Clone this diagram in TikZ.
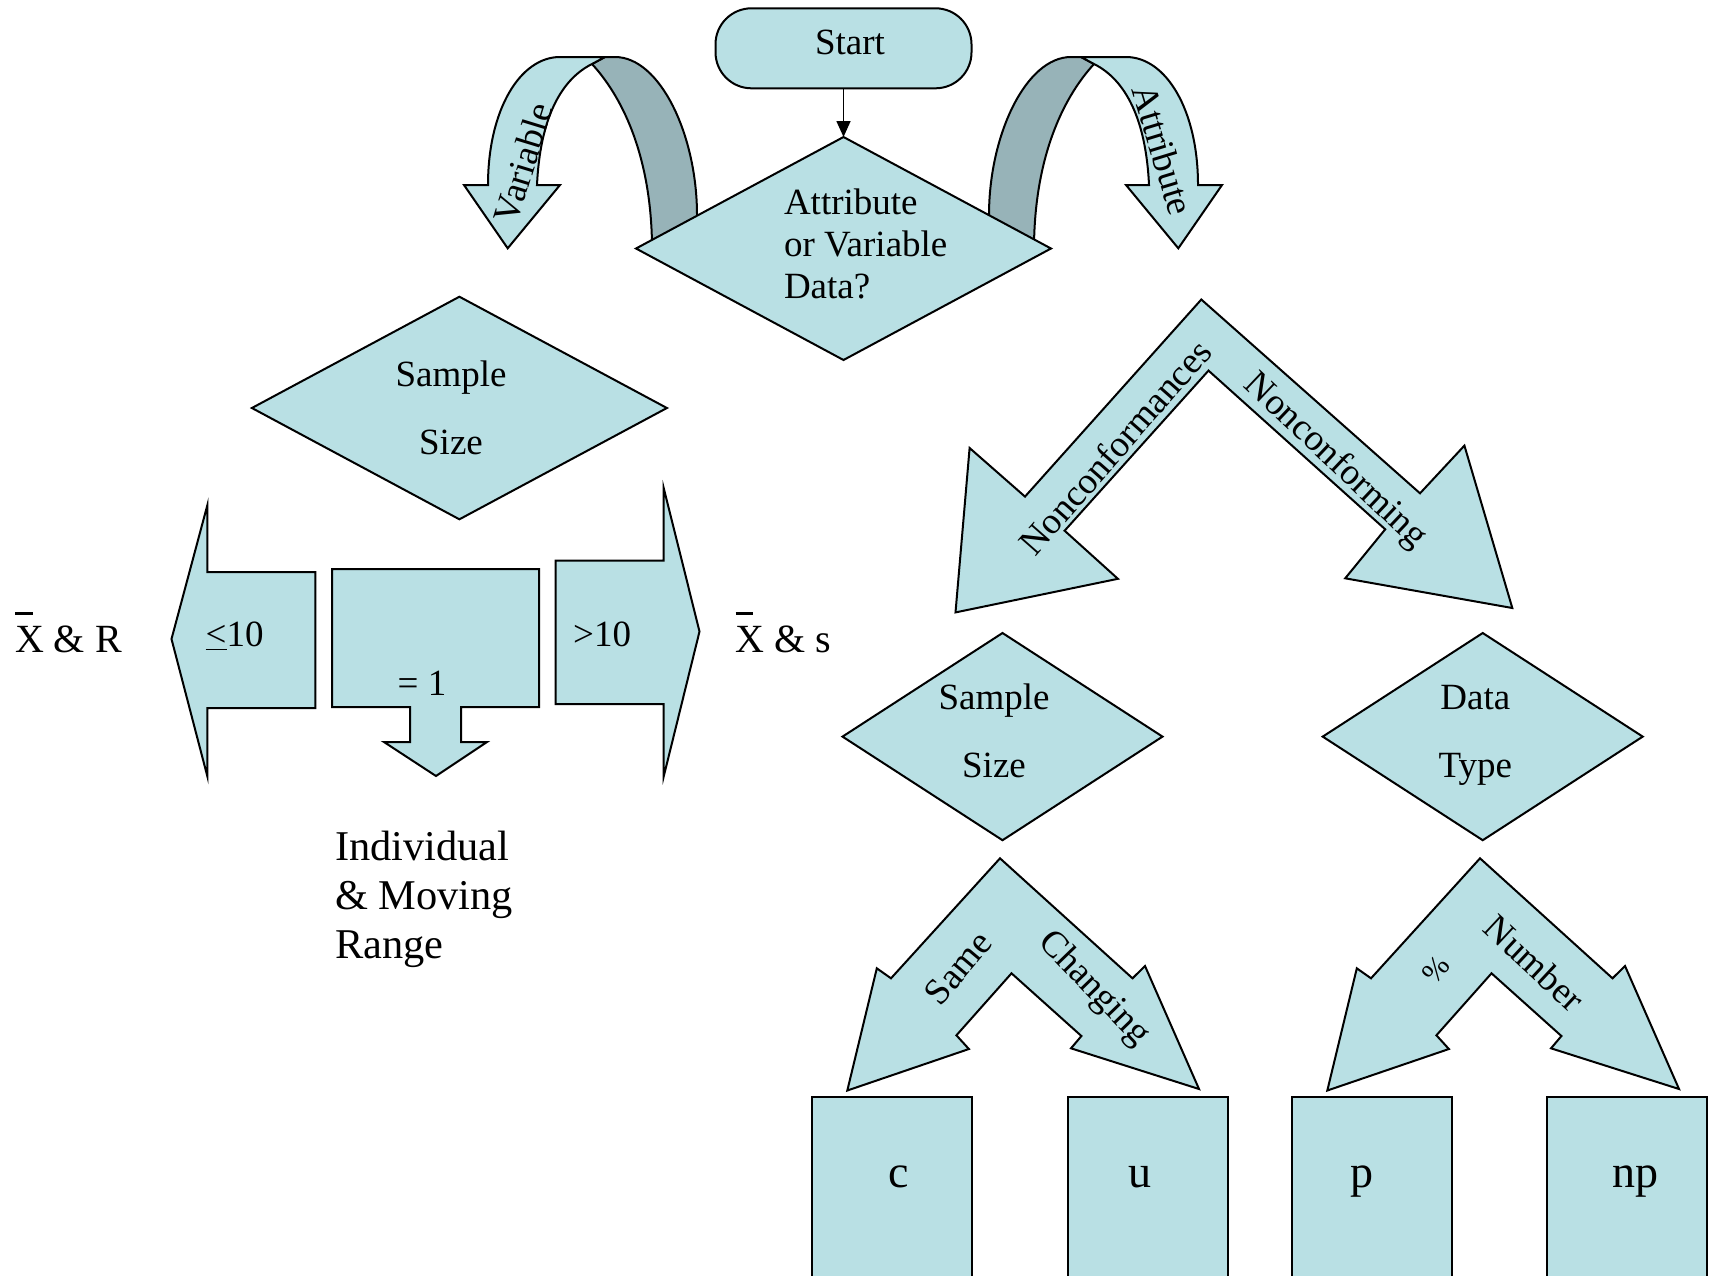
\documentclass[tikz,border=0pt]{standalone}
\usepackage{fontspec}
\setmainfont{Liberation Serif}
\usetikzlibrary{arrows.meta,shapes.geometric}
\definecolor{panel}{RGB}{185,224,228}
\definecolor{panelback}{RGB}{151,179,184}
\tikzset{
  shaped/.style={draw=black, line width=1pt, fill=panel, line join=miter},
  backface/.style={draw=black, line width=1pt, fill=panelback},
  decision/.style={shape=diamond, draw=black, line width=1pt, fill=panel,
    inner sep=0pt, outer sep=0pt},
  chartbox/.style={shape=rectangle, draw=black, line width=1pt, fill=panel,
    inner sep=0pt, outer sep=0pt, minimum width=80pt, minimum height=101.6pt},
  txt/.style={inner sep=0pt, outer sep=0pt, font=\fontsize{18.5}{21}\selectfont},
  bigtxt/.style={inner sep=0pt, outer sep=0pt, font=\fontsize{21.2}{24.5}\selectfont},
  lettertxt/.style={inner sep=0pt, outer sep=0pt, font=\fontsize{23}{27}\selectfont},
}
% curled ribbon arrow: back face rising from the decision, front face with head
\newcommand\curlribbon{%
  \path[backface] (592,64) -- (605,57) -- (615,57)
    .. controls (660,57) and (697,135) .. (697,215) -- (697,250) -- (652,250)
    -- (652,245) .. controls (651,160) and (625,100) .. (592,64) -- cycle;
  \path[shaped] (592,64) -- (605,57) -- (560,57)
    .. controls (520,57) and (488,110) .. (488,185) -- (464,185) -- (507.7,248.3)
    -- (560,185) -- (537,185) .. controls (540,120) and (560,80) .. (592,64) -- cycle;
}
% double-headed chevron below the small decisions
\newcommand\smallchevron{%
  \path[shaped] (1000,858.3) -- (1132.5,978.3) -- (1145,966) -- (1199,1089)
    -- (1071,1048.3) -- (1081.4,1036) -- (1011.5,973.3) -- (956.4,1035.3)
    -- (968.9,1049) -- (847.3,1090.5) -- (876.8,968.3) -- (891,978.3) -- cycle;
}
\begin{document}
\begin{tikzpicture}[x=0.5pt, y=-0.5pt]
\clip (0,0) rectangle (1711,1275);
\fill[white] (0,0) rectangle (1711,1275);

% ribbons on both sides of the first decision
\curlribbon
\begin{scope}[shift={(1686,0)}, xscale=-1]
  \curlribbon
\end{scope}
\node[txt, rotate=73] (tvar) at (523,163) {Variable};
\node[txt, rotate=-73] (tatt) at (1163,150) {Attribute};

% start and first decision
\node[shape=rectangle, draw=black, line width=1pt, fill=panel, rounded corners=18pt,
  minimum width=128pt, minimum height=40pt, inner sep=0pt, outer sep=0pt]
  (start) at (843.5,48.3) {};
\node[txt, anchor=base] (starttext) at (850,54) {Start};
\node[decision, minimum width=207.5pt, minimum height=111.5pt] (qdata) at (843.5,248.5) {};
\node[txt, anchor=base west, align=left] (qtext) at (784,298)
  {Attribute\\or Variable\\Data?};
\draw[line width=0.8pt, -{Triangle[length=8pt,width=7pt]}] (start.south) -- (qdata.north);

% variable data branch
\node[decision, minimum width=207.5pt, minimum height=111.3pt] (qsize) at (459.4,408) {};
\node[txt, anchor=base, align=center, font=\fontsize{18.5}{33.6}\selectfont]
  (qsizetext) at (451,454) {Sample\\Size};

\path[shaped] (315.4,572) -- (315.4,708) -- (207.4,708) -- (207.4,776.5)
  -- (171.5,639) -- (207.4,505) -- (207.4,572) -- cycle;
\path[shaped] (332,569) -- (539,569) -- (539,707) -- (461,707) -- (461,742)
  -- (487,742) -- (436,776) -- (384,742) -- (410,742) -- (410,707) -- (332,707) -- cycle;
\path[shaped] (555.7,560.5) -- (663.7,560.5) -- (663.7,488) -- (699.5,631.5)
  -- (663.7,776.5) -- (663.7,704) -- (555.7,704) -- cycle;
\node[txt, anchor=base west] (lten) at (205.7,646.7) {\underline{<}10};
\node[txt, anchor=base west] (eqone) at (397.7,695) {= 1};
\node[txt, anchor=base west] (gten) at (573.2,646.7) {>10};

\node[inner sep=0pt, outer sep=0pt, font=\fontsize{20}{24}\selectfont, anchor=base west]
  (xbarr) at (15,652) {\rlap{\rule[18.5pt]{8.8pt}{1.7pt}}X \& R};
\node[inner sep=0pt, outer sep=0pt, font=\fontsize{20}{24}\selectfont, anchor=base west]
  (xbars) at (735.5,652) {\rlap{\rule[18.5pt]{8.8pt}{1.7pt}}X \& s};
\node[bigtxt, anchor=base west, align=left] (imr) at (335,958.5)
  {Individual\\\& Moving\\Range};

% attribute data branch
\path[shaped] (1201.3,299.5) -- (1420,493.3) -- (1464.4,445.6) -- (1512.3,608)
  -- (1345.2,578.3) -- (1385.2,529.3) -- (1208.5,370.6) -- (1064.6,530.7)
  -- (1117.9,578.8) -- (955.5,612.4) -- (969.6,448) -- (1025,496.6) -- cycle;
\node[txt, rotate=48.7] (tnces) at (1115,447) {Nonconformances};
\node[txt, rotate=-43.4] (tning) at (1335,461.5) {Nonconforming};

\node[decision, minimum width=160pt, minimum height=103.6pt] (qsize2) at (1002.5,736.6) {};
\node[txt, anchor=base, align=center, font=\fontsize{18.5}{33.8}\selectfont]
  (qsize2text) at (994,777) {Sample\\Size};
\node[decision, minimum width=160pt, minimum height=103.6pt] (qtype) at (1482.7,736.6) {};
\node[txt, anchor=base, align=center, font=\fontsize{18.5}{33.8}\selectfont]
  (qtypetext) at (1475.3,777) {Data\\Type};

\smallchevron
\begin{scope}[shift={(480,0)}]
  \smallchevron
\end{scope}
\node[txt, rotate=50] (tsame) at (958,968) {Same};
\node[txt, rotate=-46] (tchg) at (1093.5,989) {Changing};
\node[inner sep=0pt, outer sep=0pt, font=\fontsize{15}{18}\selectfont, rotate=50]
  (tpct) at (1436,970) {\%};
\node[txt, rotate=-43] (tnum) at (1534.5,963) {Number};

% control chart choices
\node[chartbox] (cbox) at (891.7,1198.5) {};
\node[chartbox] (ubox) at (1147.6,1198.5) {};
\node[chartbox] (pbox) at (1371.5,1198.5) {};
\node[chartbox] (npbox) at (1627.4,1198.5) {};
\node[lettertxt, anchor=base] (ctext) at (898.8,1187) {c};
\node[lettertxt, anchor=base] (utext) at (1140,1187) {u};
\node[lettertxt, anchor=base] (ptext) at (1361.5,1187) {p};
\node[lettertxt, anchor=base] (nptext) at (1635.5,1187) {np};
\end{tikzpicture}
\end{document}
